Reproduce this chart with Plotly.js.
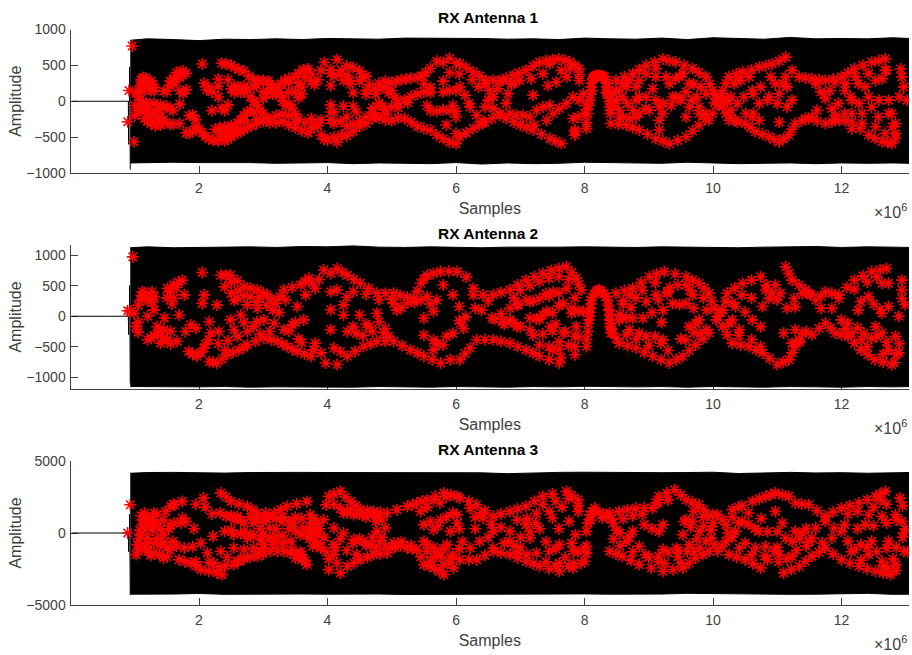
<!DOCTYPE html>
<html><head><meta charset="utf-8">
<script src="https://cdn.plot.ly/plotly-3.0.1.min.js"></script>
<style>html,body{margin:0;padding:0;background:#fff}#c{width:912px;height:655px}</style>
</head><body><div id="c"></div>
<script>
const MEGA = 1e6;
const tickMillions = [2,4,6,8,10,12];
const tickLabels = ['2','4','6','8','10','12'];
const panelTitles = ['RX Antenna 1','RX Antenna 2','RX Antenna 3'];

// silent lead-in and transient before the burst starts (x in millions of samples)
const leadX = [0.02,0.3,0.6,0.88,0.9,0.905,0.905,0.92,0.92,0.93];
const lead1 = [0,0,0,0,0,-600,0,0,480,-950];
const lead2 = [0,0,0,0,0,-300,0,0,500,-1100];
const lead3 = [0,0,0,0,0,-1300,0,0,1300,-4300];

// signal envelope
const envX = [0.93,1.2,1.6,2,2.4,2.8,3.2,3.6,4,4.4,4.8,5.2,5.6,6,6.4,6.8,7.2,7.6,8,8.4,8.8,9.2,9.6,10,10.4,10.8,11.2,11.6,12,12.4,12.8,13.05];
const rx1Top = [850,870,860,845,865,860,870,860,875,870,865,880,880,870,875,865,870,860,880,870,865,880,860,885,875,865,890,870,875,870,885,875];
const rx1Bot = [-860,-855,-850,-855,-860,-855,-865,-860,-855,-870,-860,-865,-870,-855,-875,-860,-870,-865,-850,-865,-860,-865,-850,-860,-870,-865,-860,-870,-860,-865,-860,-865];
const rx2Top = [1120,1135,1120,1125,1130,1135,1125,1140,1135,1150,1130,1125,1135,1130,1120,1130,1125,1130,1135,1130,1125,1135,1130,1125,1120,1130,1135,1140,1125,1135,1130,1125];
const rx2Bot = [-1150,-1155,-1150,-1155,-1150,-1160,-1155,-1150,-1155,-1160,-1150,-1155,-1160,-1150,-1155,-1160,-1150,-1155,-1145,-1150,-1155,-1150,-1160,-1150,-1155,-1160,-1150,-1155,-1160,-1150,-1155,-1150];
const rx3Top = [4150,4200,4210,4180,4160,4200,4180,4210,4200,4190,4220,4170,4210,4200,4180,4120,4190,4210,4220,4200,4170,4190,4200,4220,4130,4180,4210,4170,4190,4150,4180,4200];
const rx3Bot = [-4250,-4270,-4240,-4200,-4260,-4250,-4270,-4240,-4250,-4260,-4240,-4270,-4250,-4260,-4240,-4270,-4250,-4240,-4230,-4250,-4260,-4240,-4190,-4250,-4260,-4240,-4260,-4250,-4240,-4190,-4260,-4250];

// demodulated symbols as [millions of samples, amplitude]
const rx1Start = [[0.96,770],[0.99,-565],[0.91,150],[0.89,-285],[2.05,520]];
const rx1UpperA = [[2.35,530],[2.42,520],[2.5,500],[2.55,470],[2.62,440],[2.7,420],[2.78,350],[2.85,300],[2.92,290],[3,290],[3.08,280],[3.15,210],[3.2,160],[3.27,240],[3.33,290],[3.4,320],[3.5,340],[3.55,390],[3.62,440],[3.7,450],[3.75,380],[3.8,230],[3.85,300],[3.9,430],[3.95,540],[4.05,440],[4.15,580],[4.22,430],[4.3,490],[4.4,470],[4.5,420],[4.6,350],[4.65,230],[4.72,170],[4.8,250],[4.9,280],[5,260],[5.07,280],[5.15,300],[5.22,310],[5.3,320],[5.4,330],[5.47,350],[5.53,400],[5.6,460],[5.7,560],[5.8,540],[5.9,600],[6,530]];
const rx1LowerA = [[1.8,-440],[1.85,-450],[1.9,-420],[1.95,-350],[2,-380],[2.05,-440],[2.1,-490],[2.15,-520],[2.22,-545],[2.3,-550],[2.4,-550],[2.45,-530],[2.5,-490],[2.55,-470],[2.6,-440],[2.65,-420],[2.7,-390],[2.75,-370],[2.82,-340],[2.9,-310],[3,-280],[3.1,-300],[3.2,-300],[3.3,-280],[3.4,-330],[3.5,-370],[3.6,-410],[3.7,-440],[3.75,-380],[3.8,-320],[3.85,-340],[3.9,-470],[3.95,-530],[4,-540],[4.1,-500],[4.15,-570],[4.22,-470],[4.3,-480],[4.4,-420],[4.5,-350],[4.6,-310],[4.7,-240],[4.8,-230],[4.9,-260],[5,-270],[5.1,-230],[5.2,-240],[5.3,-290],[5.4,-350],[5.5,-380],[5.6,-400],[5.7,-470],[5.8,-520],[5.9,-570],[6,-590]];
const rx1InnerA = [[1.02,120],[1.05,60],[1.08,10],[1,-60],[1.05,-130],[1,-200],[1.08,-110],[1.15,-120],[1.2,-160],[1.15,-240],[1.2,-280],[1.3,-270],[1.35,-310],[1.4,-330],[1.45,-300],[1.4,-220],[1.3,-180],[1.25,-130],[1.2,-60],[1.3,-30],[1.4,-50],[1.5,-70],[1.55,-100],[1.6,-130],[1.7,-40],[1.6,-320],[1.7,-310],[1.55,-320],[1.1,300],[1.13,330],[1.17,320],[1.12,260],[1.15,230],[1.1,180],[1.15,150],[1.07,130],[1.25,280],[1.28,230],[1.3,190],[1.25,150],[1.3,150],[1.45,140],[1.5,140],[1.55,280],[1.6,320],[1.6,270],[1.65,340],[1.7,410],[1.75,420],[1.8,390],[1.65,400],[1.7,330],[1.7,150],[1.8,160],[1.75,110],[2.08,250],[2.15,190],[2.2,130],[2.3,210],[2.3,60],[2.2,-130],[2.35,-100],[2.45,-50],[2.3,310],[2.25,-390],[2.32,-370],[2.4,-360],[2.5,-340],[2.6,-300],[2.7,-270],[2.75,-150],[2.8,-130],[2.35,-470],[2.45,-460],[2.55,-410],[2.6,200],[2.5,170],[2.55,120],[2.65,130],[2.75,170],[2.8,60],[2.85,0],[2.9,-50],[3,40],[3,130],[3.1,170],[3.2,100],[3.3,0],[3.35,-60],[3.45,-100],[3.5,-180],[3.55,-250],[3.3,-180],[3.2,-200],[3,-170],[2.95,-130],[3.6,100],[3.5,140],[3.55,250],[3.6,200],[3.4,260],[3.75,-240],[3.9,-260],[4.05,-260],[4.1,-150],[4.05,-50],[4.25,-70],[4.4,-70],[4.45,-150],[4.3,-220],[4.05,220],[4.25,290],[4.35,240],[4.4,120],[4.6,150],[4.75,100],[4.8,-30],[4.7,-90],[4.85,-70],[4.9,-180],[5,-80],[5.1,-20],[5.2,20],[5.3,70],[5.4,100],[5.5,130],[5.6,120],[5.6,190],[5.5,240],[5,150],[4.9,190],[5.55,-60],[5.6,-130],[5.7,-140],[5.8,-120],[5.9,-130],[5.95,-60],[6,-140],[6,-220],[5.85,-330],[6,-450],[5.8,130],[5.9,150],[6,150],[5.8,280],[5.9,400],[6.05,380]];
const rx1MoreA = [[1.12,300],[1.18,280],[1.2,220],[1.08,220],[1.25,240],[1.22,-240],[1.25,-310],[1.32,-340],[1.45,-260],[1.38,-120],[1.45,-90],[1.12,-30],[1.18,-20],[1.6,240],[1.55,220],[1.75,370],[1.85,-200],[1.9,-190],[1.95,-260],[2.12,160],[2.4,-130],[2.3,-410],[2.45,-420],[2.55,-360],[2.65,-260],[2.7,-200],[2.85,-150],[2.6,150],[2.7,130],[2.55,210],[2.7,210],[2.45,300],[2.85,200],[2.9,230],[3.1,240],[3.15,100],[3.25,130],[3.3,60],[3.05,100],[3.4,-40],[3.4,-200],[3.05,-230],[3.1,-250],[2.9,-250],[3.5,-290],[3.65,-300],[3.4,130],[3.55,50],[3.65,340],[3.75,280],[4.1,350],[4.2,380],[4.3,360],[4.35,290],[4.05,390],[4.5,280],[4.55,340],[4.6,100],[4.8,180],[4.95,120],[5.05,50],[4.7,-160],[4.75,-210],[4.9,-120],[4.6,-220],[4.5,-280],[4.4,-320],[4.3,-350],[4.2,-280],[4.05,-150],[4.1,-310],[5.1,-90],[5.25,-20]];
const rx1UpperB = [[6.06,520],[6.16,470],[6.27,410],[6.37,350],[6.47,290],[6.58,290],[6.68,290],[6.78,320],[6.89,360],[6.98,395],[7.09,430],[7.2,490],[7.3,545],[7.4,565],[7.5,580],[7.6,590],[7.7,570],[7.77,545],[7.85,500],[7.92,450],[7.92,370],[7.92,290],[7.98,100],[8.03,-60]];
const rx1LowerB = [[6.06,-495],[6.16,-440],[6.27,-380],[6.36,-335],[6.45,-290],[6.56,-240],[6.68,-195],[6.78,-240],[6.9,-290],[7,-330],[7.1,-365],[7.2,-400],[7.33,-460],[7.46,-520],[7.55,-555],[7.64,-590],[7.85,-470],[7.85,-400],[8.03,-380],[8.03,-300],[8.05,-170]];
const rx1InB = [[6.06,200],[6.14,85],[6.22,-80],[6.32,-195],[6.42,-290],[6.45,245],[6.52,150],[6.58,60],[6.65,175],[6.73,290],[6.5,15],[6.45,-80],[6.58,-100],[6.68,-170],[6.78,-30],[6.81,105],[6.86,245],[6.84,-170],[6.94,-195],[7.04,-195],[7.15,-220],[7.25,-125],[7.35,-80],[7.46,-55],[7.41,-265],[7.51,-170],[7.61,-100],[7.72,-30],[7.82,-240],[7.85,-425],[7.9,-220],[7.2,85],[7.22,-335],[7.35,385],[7.43,220],[7.56,270],[7.72,340],[7.77,455],[7.46,520],[7.64,430],[7.17,315],[6.99,290],[6.9,250],[7.82,60],[7.92,15],[8,-170],[6.25,300],[6.35,200],[6.2,-30]];
const rx1Hump = [[8.08,15],[8.1,200],[8.13,315],[8.16,345],[8.2,360],[8.25,355],[8.31,340],[8.34,260],[8.36,150],[8.38,40],[8.39,-80],[8.4,-170],[8.07,-60],[8.09,100],[8.11,250],[8.14,330],[8.18,355],[8.22,360],[8.28,350],[8.33,300],[8.35,200],[8.37,100],[8.39,0],[8.41,-120],[8.12,150],[8.34,120]];
const rx1HexTop = [[8.49,290],[8.62,340],[8.75,385],[8.85,440],[8.96,500],[9.09,545],[9.22,590],[9.32,565],[9.42,545],[9.55,500],[9.68,455],[9.78,400],[9.89,340],[9.95,240],[9.99,150],[10.04,90],[10.07,40],[10.12,60],[10.02,-20],[10.09,-40]];
const rx1HexBot = [[8.41,-310],[8.53,-320],[8.65,-335],[8.75,-365],[8.85,-400],[8.98,-460],[9.11,-520],[9.22,-555],[9.32,-590],[9.45,-545],[9.58,-495],[9.68,-415],[9.78,-335],[9.88,-250],[9.99,-170],[10.07,-40]];
const rx1HexIn = [[8.54,-125],[8.75,-125],[8.59,60],[8.85,60],[9.06,175],[9.22,-30],[9.32,245],[9.42,60],[9.58,130],[9.63,-80],[9.78,-80],[9.16,-265],[9.22,-170],[9.47,340],[9.11,340],[8.8,200],[8.65,200],[9.93,-265],[8.5,130],[8.47,-30],[8.6,-220],[8.8,-220],[8.95,-100],[9.35,-60],[9.5,20],[9.75,60],[9.85,-190],[9.7,240],[8.49,153],[8.59,245],[8.7,290],[8.85,290],[8.96,385],[9.11,455],[9.27,340],[8.49,15],[8.67,-30],[8.8,15],[8.96,60],[9.11,15],[8.54,-220],[8.7,-240],[8.85,-170],[9.01,-125],[9.16,-80],[9.42,315],[9.53,385],[9.63,245],[9.81,200],[9.89,105],[9.68,15],[9.78,-170],[9.89,-170],[9.58,-220],[9.16,-400],[9.37,60],[9.47,35]];
const rx1Top3 = [[10.15,150],[10.2,250],[10.25,340],[10.36,380],[10.46,410],[10.6,440],[10.72,475],[10.82,495],[10.92,520],[11.03,560],[11.13,615],[11.23,430],[11.34,340],[11.44,325],[11.54,315],[11.65,300],[11.75,290],[11.87,310],[12,340],[12.1,395],[12.2,455],[12.33,500],[12.47,545],[12.58,565],[12.68,590],[12.7,430]];
const rx1Bot3 = [[10.15,-80],[10.2,-170],[10.25,-265],[10.38,-290],[10.5,-310],[10.58,-365],[10.66,-425],[10.77,-460],[10.87,-495],[10.95,-530],[11.03,-565],[11.1,-520],[11.18,-470],[11.23,-390],[11.28,-310],[11.38,-275],[11.49,-240],[11.62,-275],[11.75,-310],[11.85,-285],[11.96,-265],[12.06,-275],[12.16,-290],[12.29,-380],[12.42,-470],[12.52,-515],[12.63,-565],[12.72,-575],[12.78,-590],[12.84,-450]];
const rx1In3 = [[11.6,245],[11.68,130],[11.75,40],[11.62,-125],[11.54,-220],[11.85,-100],[11.9,-195],[11.82,150],[11.9,265],[10.23,15],[10.28,-125],[10.38,-30],[10.48,60],[10.63,105],[10.85,15],[11,-30],[11.15,-80],[10.63,-170],[11.08,245],[11.13,340],[11.15,200],[11.03,-290],[10.43,290],[10.74,200],[10.9,340],[12.05,150],[12.16,15],[12.26,245],[12.42,385],[12.63,315],[12.32,-170],[12.47,-80],[12.73,15],[12.57,-220],[12.16,-380],[12.78,-170],[12.84,-310],[12.92,450],[12.94,340],[12.97,200],[13.02,15],[12.9,60],[11.95,-30],[12.05,-170],[10.28,60],[10.33,245],[10.41,340],[10.56,340],[10.2,15],[10.25,-195],[10.35,-265],[10.51,-170],[10.61,-220],[10.72,-265],[10.72,-30],[10.97,245],[11.03,105],[10.87,60],[10.61,150],[11.23,15],[12.06,245],[12.22,340],[12.37,200],[12.53,290],[12.68,430],[12.14,60],[12.27,-30],[12.42,60],[12.58,15],[12.16,-170],[12.32,-310],[12.53,-355],[12.68,-450],[12.79,-355],[12.84,-520],[12.73,-170],[11.9,-265],[11.44,-240]];

const rx2Start = [[0.97,970],[0.89,90],[2.05,715],[0.93,80]];
const rx2UpperA = [[2.34,670],[2.42,670],[2.49,670],[2.6,580],[2.7,485],[2.8,455],[2.91,430],[3,380],[3.06,350],[3.13,280],[3.19,210],[3.26,320],[3.32,430],[3.45,470],[3.58,510],[3.65,570],[3.71,620],[3.76,540],[3.81,455],[3.87,600],[3.94,755],[4.05,700],[4.15,780],[4.23,720],[4.31,670],[4.41,600],[4.51,540],[4.64,455],[4.77,375],[4.9,375],[5.03,375],[5.13,340],[5.24,310],[5.34,295],[5.4,410],[5.45,540],[5.5,610],[5.55,670],[5.65,700],[5.76,730],[5.89,735],[6.02,730],[6.16,640],[6.27,455]];
const rx2LowerA = [[1.84,-575],[1.9,-620],[1.97,-655],[2.03,-590],[2.08,-520],[2.16,-740],[2.22,-750],[2.28,-765],[2.36,-700],[2.44,-630],[2.53,-590],[2.62,-550],[2.7,-510],[2.75,-465],[2.88,-410],[3.01,-360],[3.12,-385],[3.22,-410],[3.3,-450],[3.37,-495],[3.45,-535],[3.53,-575],[3.64,-615],[3.74,-655],[3.78,-550],[3.81,-440],[3.9,-600],[3.97,-765],[4.15,-790],[4.1,-520],[4.2,-580],[4.31,-655],[4.43,-575],[4.56,-495],[4.67,-450],[4.77,-410],[4.9,-410],[5.03,-410],[5.16,-480],[5.29,-550],[5.4,-600],[5.5,-655],[5.63,-710],[5.76,-765],[5.91,-710],[6.06,-710],[6.14,-610],[6.22,-520],[6.32,-385]];
const rx2InA = [[1.12,400],[1.14,340],[1.09,265],[1.05,180],[0.99,50],[1.02,-170],[1.05,-260],[1.2,0],[1.3,100],[1.27,400],[1.25,300],[1.2,-385],[1.35,-170],[1.4,-440],[1.3,-320],[1.45,-350],[1.56,-250],[1.66,-410],[1.56,-450],[1.51,455],[1.6,510],[1.68,560],[1.74,590],[1.61,295],[1.77,350],[1.5,300],[1.69,20],[1.46,-30],[2.08,350],[2.05,210],[2.16,-90],[2.28,185],[1.87,-140],[1.79,-250],[1.95,-195],[2.18,-275],[2.31,-250],[2.49,-60],[2.54,-220],[2.65,20],[2.75,185],[2.91,130],[2.85,-170],[3.01,-60],[3.17,-115],[2.5,375],[2.6,290],[2.4,480],[3.32,-220],[3.45,-140],[3.63,-60],[3.35,265],[3.53,160],[3.66,350],[4.05,400],[4.05,105],[4.25,185],[4.25,20],[4.05,-220],[4.31,-250],[4.5,20],[4.4,-170],[4.65,-170],[4.77,50],[4.87,-275],[5.08,100],[5.03,210],[5.5,-30],[5.55,320],[5.7,265],[5.65,80],[5.8,510],[5.95,350],[6.05,160],[5.5,-310],[5.65,-390],[5.85,-330],[5.65,-550],[5.95,-280],[6.07,-115],[6.15,-10],[6.12,-200],[6.05,-70],[5.7,-450],[5.8,-470],[5.6,200],[6.27,350]];
const rx2More = [[1.1,340],[1.15,380],[1.2,250],[1.05,-100],[1.3,320],[1.28,230],[1.25,-350],[1.35,-280],[1.45,-220],[1.5,-390],[1.4,-250],[1.55,400],[1.65,470],[1.58,200],[2.5,560],[2.6,420],[2.55,260],[2.7,340],[2.8,320],[2.95,310],[2.9,230],[3.05,180],[3.15,100],[3.25,60],[2.7,-100],[2.75,-250],[2.9,-90],[3.1,-250],[2.95,-290],[2.6,-330],[2.45,-400],[2.3,-450],[2.4,-560],[2.1,-460],[2.15,-380],[3.4,-240],[3.5,-100],[3.55,-370],[3.6,-430],[4.45,-280],[4.55,-320],[4.6,-130],[4.7,-250],[4.8,-90],[4.9,-200],[4.95,-330],[4.6,360],[4.8,270],[5,280],[4.4,400],[4.3,310],[4.15,430],[5.15,140],[5.25,220],[5.35,230],[5.45,260],[6.9,300],[7,430],[7.15,500],[7.3,570],[7.45,620],[7.6,650],[7.75,600],[6.95,180],[7.15,240],[7.45,330],[7.6,380],[7.85,300],[6.5,250],[6.6,-50],[6.75,-130],[6.9,-110],[6.95,-170],[7.25,-40],[7.35,20],[7.5,60],[7.6,170],[7.8,130],[7.9,90],[7.2,-310],[7.35,-290],[7.5,-240],[7.7,-250],[7.85,-330],[7.9,-340],[7.3,-470],[7.45,-500],[7.6,-540],[7.75,-480],[8.6,250],[8.7,350],[8.9,420],[9.1,550],[8.55,30],[8.7,-220],[8.8,-370],[9,-480],[9.1,-330],[9.3,-560],[9.5,-370],[9.7,-270],[9.8,-280],[9.9,100],[9.85,300],[9.7,130],[9.15,270],[9.2,-100],[10.3,220],[10.45,350],[10.5,70],[10.25,-120],[10.4,-310],[10.6,-380],[10.6,300],[11.28,150],[11.35,-420],[11.45,-250],[11.5,370],[12.05,-200],[12.3,240],[12.5,200],[12.6,110],[12.35,-280],[12.55,-330],[12.7,-420],[12.85,-620],[12.65,-620],[12.4,-500],[12.9,-450],[12.2,440],[12.4,560],[12.55,640],[12.25,-190]];
const rx2UpperB = [[6.42,350],[6.58,350],[6.7,390],[6.84,430],[6.96,510],[7.09,590],[7.22,645],[7.35,700],[7.48,750],[7.6,780],[7.72,810],[7.8,715],[7.87,620],[7.91,520],[7.95,430]];
const rx2LowerB = [[6.45,-385],[6.58,-385],[6.7,-410],[6.84,-440],[6.96,-495],[7.09,-550],[7.2,-600],[7.3,-655],[7.45,-710],[7.61,-765],[7.63,-680],[7.85,-630],[7.85,-500],[8.03,-495],[8.03,-380]];
const rx2InB = [[6.84,130],[7.09,265],[7.3,290],[7.51,400],[7.72,455],[6.4,100],[6.56,-30],[6.84,-60],[7,-170],[7.15,-225],[7.15,-30],[7.41,80],[7.67,210],[7.98,80],[7.47,-170],[7.67,-275],[7.87,-170],[6.7,40],[6.97,195],[7.2,250],[7.4,370],[6.3,130],[6.72,-90],[7.55,-130],[7.3,-50],[7.8,50],[7.6,-420],[7.5,-550]];
const rx2Hump = [[8.08,0],[8.09,130],[8.1,265],[8.15,360],[8.23,430],[8.3,370],[8.36,265],[8.38,100],[8.39,-60],[8.4,-170],[8.41,-275],[8.06,-120],[8.07,-60],[8.09,60],[8.1,200],[8.12,310],[8.18,400],[8.2,420],[8.26,410],[8.33,320],[8.37,180],[8.39,20],[8.4,-120],[8.05,-250],[8.42,-200]];
const rx2HexTop = [[8.49,375],[8.62,420],[8.75,455],[8.88,550],[9.01,645],[9.12,690],[9.24,730],[9.41,690],[9.58,645],[9.68,590],[9.78,540],[9.86,460],[9.94,375],[9.98,250],[10.02,130],[10.07,0],[10.12,60]];
const rx2HexBot = [[8.44,-275],[8.49,-360],[8.54,-440],[8.67,-480],[8.8,-520],[8.93,-590],[9.06,-655],[9.19,-710],[9.32,-765],[9.43,-710],[9.53,-655],[9.63,-560],[9.73,-465],[9.84,-370],[9.94,-275],[10.05,-60]];
const rx2HexIn = [[9.29,375],[9.33,470],[9.58,510],[9.68,350],[9.58,210],[9.37,210],[9.29,400],[9.45,510],[9.64,430],[9.48,190],[8.72,145],[8.96,240],[9.11,350],[9.22,100],[8.54,-60],[8.75,-30],[8.91,-30],[8.65,-300],[8.96,-330],[9.19,-440],[9.22,-390],[9.63,-170],[9.78,-60],[9.89,-220],[9.58,-385],[9.73,-120],[8.6,200],[8.8,300],[9.05,60],[8.65,-30],[8.85,-280]];
const rx2Top3 = [[10.15,100],[10.19,240],[10.22,375],[10.34,460],[10.46,540],[10.6,590],[10.74,645],[10.83,510],[10.92,375],[11.13,810],[11.18,700],[11.23,590],[11.34,510],[11.44,430],[11.52,350],[11.6,265],[11.68,330],[11.75,400],[11.85,375],[11.96,350],[12.08,470],[12.2,590],[12.33,660],[12.47,730],[12.6,760],[12.7,780]];
const rx2Bot3 = [[10.15,-170],[10.22,-300],[10.3,-440],[10.43,-470],[10.56,-495],[10.67,-550],[10.77,-600],[10.88,-690],[11,-790],[11.09,-750],[11.18,-710],[11.23,-600],[11.28,-495],[11.34,-385],[11.39,-275],[11.54,-300],[11.65,-200],[11.75,-115],[11.83,-190],[11.9,-275],[12,-300],[12.1,-330],[12.2,-440],[12.3,-550],[12.41,-630],[12.52,-710],[12.65,-750],[12.78,-790]];
const rx2In3 = [[10.82,430],[10.87,290],[11,265],[11.05,375],[10.97,510],[11.68,130],[11.85,130],[11.96,290],[11.39,375],[11.26,290],[10.3,-60],[10.41,-220],[10.61,-60],[10.74,-170],[10.74,-495],[10.35,160],[10.77,160],[11.15,130],[11.1,-275],[11.28,-220],[11.23,-440],[12,-60],[12.1,-115],[12.26,100],[12.42,320],[12.63,540],[12.73,540],[12.53,-170],[12.63,50],[12.73,160],[12.89,0],[12.84,-330],[12.63,-275],[12.94,590],[12.94,430],[12.94,295],[12.99,190],[12.16,-275],[12.31,-385],[12.47,-360],[12.73,-550],[12.89,-600],[12.82,-760]];

const rx3Start = [[0.93,1960],[0.89,0],[1.92,300],[2.07,2425],[2.22,-230]];
const rx3Left = [[1.15,1390],[1.12,900],[1.12,580],[1.08,200],[1.04,-810],[1.06,-400],[1.02,-1500],[1.06,-1150],[1.2,-1270],[1.3,1390],[1.28,900],[1.22,500],[1.35,690],[1.28,200],[1.45,-115],[1.53,300],[1.61,690],[1.72,700],[1.74,2195],[1.62,1950],[1.56,1850],[1.48,1500],[1.74,1040],[1.8,800],[1.59,-580],[1.4,-810],[1.45,-1730],[1.38,-1500],[1.2,-350],[1.3,-700],[1.3,-1350],[1.5,-1000],[1.65,-900],[1.95,2000],[2.1,1800],[2.2,1320],[2.33,1400]];
const rx3LowerA = [[1.69,-1850],[1.78,-2000],[1.87,-2080],[1.95,-2300],[2.03,-2540],[2.15,-2650],[2.28,-2770],[2.36,-2890],[2.23,-2080],[2.13,-1385],[2.34,-1270],[2.44,-1700],[2.54,-2195],[2.62,-1950],[2.7,-1730],[2.8,-1680],[2.91,-1620],[3,-1450],[3.11,-1270],[3.22,-1270],[3.32,-1270],[3.42,-1380],[3.53,-1500],[3.6,-1850],[3.68,-2195],[3.58,-1300],[3.45,-1200],[1.77,-1040],[1.9,-950],[2.03,-690]];
const rx3UpperA = [[2.34,2770],[2.42,2500],[2.5,2195],[2.62,2020],[2.75,1850],[2.83,1620],[2.91,1390],[3.04,1390],[3.17,1390],[3.27,1620],[3.37,1850],[3.52,2020],[3.68,2195],[3.73,1270],[2.6,1150],[2.5,1200],[2.42,1170],[2.7,700],[2.85,700],[3.05,1040],[3.3,800],[3.47,700],[3.62,350],[2.4,115],[2.54,-115],[2.75,-350],[2.96,-460],[3.17,-580],[3.43,-580],[3.58,-115],[2.54,-1040],[2.7,-1155],[2.85,-1040],[3.01,-810],[2.65,-50],[2.8,-100],[3.1,-300],[3.3,-200]];
const rx3Mid = [[3.84,700],[3.79,-115],[3.89,-1040],[3.81,-580],[3.94,920],[3.77,-920],[3.88,300],[3.72,200],[3.95,-300],[3.98,-1300],[4.02,-1800]];
const rx3UpperB = [[4.02,2540],[3.98,1950],[4.1,2700],[4.2,2890],[4.28,2500],[4.36,2195],[4.44,1900],[4.51,1620],[4.62,1550],[4.72,1500],[4.82,1440],[4.93,1390],[5.08,1620],[5.24,1850],[5.32,1960],[5.39,2080],[5.47,2200],[5.55,2310],[5.68,2550],[5.81,2770],[5.92,2650],[6.02,2540],[4.3,1400],[4.55,1250]];
const rx3LowerB = [[4.02,-2540],[4.2,-2770],[4.31,-2310],[4.41,-2080],[4.51,-1850],[4.62,-1680],[4.72,-1500],[4.82,-1440],[4.93,-1385],[5,-1000],[5.03,-690],[5.14,-860],[5.24,-1040],[5.32,-1100],[5.39,-1155],[5.45,-1650],[5.5,-2195],[5.58,-2300],[5.66,-2425],[5.74,-2650],[5.81,-2890],[5.96,-2425]];
const rx3InB = [[4.1,350],[4.1,-810],[4.25,0],[4.41,-460],[4.56,-580],[4.77,115],[4.9,350],[4.77,1040],[4.67,-810],[4.82,-580],[4.25,1390],[4.41,1270],[4.1,-1500],[4.15,-2080],[5.45,1500],[5.5,580],[5.76,920],[5.65,230],[6.02,1270],[5.91,115],[6.02,690],[5.55,-1270],[5.76,-1620],[5.91,-1730],[5.86,-810],[5.5,-580],[5.3,-850],[5.65,-1000],[5.9,-2100]];
const rx3UpperC = [[6.06,2425],[6.2,2200],[6.32,1960],[6.45,1550],[6.58,1155],[6.7,1330],[6.84,1500],[6.96,1680],[7.09,1850],[7.22,2200],[7.35,2540],[7.5,2700],[7.72,2890],[7.8,2600],[7.9,2310],[7.9,1900],[7.9,1500]];
const rx3LowerC = [[6.06,-1850],[6.2,-1850],[6.32,-1850],[6.45,-1550],[6.58,-1270],[6.7,-1380],[6.84,-1500],[6.96,-1730],[7.09,-1960],[7.2,-2130],[7.3,-2310],[7.45,-2480],[7.61,-2660],[7.82,-2425],[7.83,-2100],[8,-1960],[8.03,-1400],[8.03,-900]];
const rx3InC = [[6.22,1730],[6.42,1040],[6.58,115],[6.37,-580],[6.22,-1040],[6.58,-1040],[6.84,115],[7.09,580],[7.24,690],[7.5,1040],[7.76,810],[7.86,-115],[6.84,-580],[7.15,-350],[7.25,-1385],[7.45,-1270],[7.61,-810],[7.82,-1270],[7.61,-2080],[8,-1040],[7.35,2000],[6.7,400],[6.3,300],[7,-1000],[7.3,300],[7.6,300]];
const rx3Hump = [[8.03,115],[8.05,700],[8.08,1270],[8.12,1500],[8.16,1730],[8.22,1400],[8.28,1040],[8.34,1200],[8.39,1385],[8.42,1000],[8.44,690],[8.1,900],[8.3,1300]];
const rx3HexTop = [[8.54,1500],[8.67,1620],[8.8,1730],[8.93,1730],[9.06,1730],[9.11,2100],[9.16,2540],[9.28,2770],[9.4,3000],[9.5,2650],[9.58,2310],[9.68,2130],[9.78,1960],[9.85,1620],[9.91,1270],[10,1270],[10.07,1270],[10.14,950],[10.2,580],[10.23,0],[10.2,-580],[10.14,-950],[10.07,-1270],[10.02,-800],[9.97,-350],[9.97,200],[10,690]];
const rx3HexBot = [[8.39,-1270],[8.49,-1450],[8.59,-1620],[8.72,-1900],[8.85,-2195],[9.04,-2430],[9.22,-2660],[9.38,-2550],[9.53,-2425],[9.63,-2080],[9.73,-1730],[9.84,-1500],[9.94,-1270]];
const rx3HexIn = [[8.93,580],[9.22,580],[9.16,115],[9.05,300],[8.75,115],[8.65,-580],[8.85,-920],[9.22,-1150],[9.43,-1040],[9.63,-810],[9.53,-115],[9.79,115],[9.68,810],[9.58,920],[9.89,-580],[9.79,-1040],[8.5,200],[8.45,-400],[9,-1700],[9.15,-2000],[9.45,-1650]];
const rx3Top3 = [[10.3,1620],[10.45,1900],[10.61,2195],[10.72,2370],[10.82,2540],[10.9,2650],[10.97,2770],[11.08,2650],[11.18,2540],[11.28,2080],[11.38,2020],[11.49,1960],[11.62,1550],[11.75,1155],[11.87,1450],[12,1730],[12.13,1900],[12.27,2080],[12.4,2300],[12.53,2540],[12.6,2700],[12.68,2890]];
const rx3Bot3 = [[10.25,-1500],[10.37,-1680],[10.5,-1850],[10.62,-2130],[10.74,-2425],[10.85,-1850],[10.95,-1270],[11.02,-2000],[11.1,-2770],[11.22,-2540],[11.34,-2310],[11.44,-1960],[11.54,-1620],[11.65,-1330],[11.75,-1040],[11.87,-1450],[12,-1850],[12.13,-2080],[12.27,-2310],[12.4,-2480],[12.53,-2660],[12.65,-2770],[12.76,-2890],[12.84,-2195],[12.72,-2500]];
const rx3In3 = [[11.6,350],[11.54,-350],[11.7,-690],[11.85,-350],[11.88,350],[11.75,810],[10.97,1500],[11.08,690],[11,115],[11.13,-350],[11.28,115],[11.23,-580],[11.39,0],[10.55,1390],[10.45,810],[10.71,115],[10.35,115],[10.41,-1040],[10.66,-1040],[10.82,-920],[11.03,-1500],[11.23,-1620],[12,115],[12.05,580],[12.42,1270],[12.37,580],[12.63,1155],[12.84,1270],[12.94,810],[12.91,2425],[12.97,-1270],[12.97,0],[12.1,-580],[12.2,-1155],[12.47,-580],[12.73,-580],[12.42,-1500],[12.63,-1960],[12.95,1900],[12.3,-800],[12.85,-1000]];
const rx3MoreA = [[1.1,1200],[1.2,1100],[1.35,1300],[1.25,600],[1.4,250],[1.15,200],[1.1,-150],[1.2,-700],[1.35,-400],[1.45,-650],[1.55,-1200],[1.25,-1550],[1.5,-1650],[1.15,-1000],[1.45,900],[1.55,500],[1.6,2000],[2.55,900],[2.65,900],[2.9,1000],[3,800],[3.1,1100],[3.2,1000],[3.3,1100],[3.4,800],[3.5,1100],[3.6,1000],[2.8,1100],[2.95,300],[3.1,350],[3.2,300],[3.4,300],[3.5,150],[2.5,200],[2.7,100],[2.85,-200],[3,-100],[3.2,-250],[3.3,-700],[2.9,-1300],[2.7,-1800],[2.6,-1950],[3,-1050],[3.15,-800],[3.5,-1750],[3.6,-1500],[3.65,-1900],[2.4,-2300],[2.3,-2400],[2.15,-2050],[1.95,-2000],[3.75,700],[3.78,1000],[3.72,-400],[3.85,-700],[3.9,-1000],[3.68,-150],[3.85,-100],[3.78,350],[4.4,-700],[4.5,-400],[4.6,-850],[4.7,-300],[4.85,-300],[4.9,-900],[4.75,-1000],[4.45,-1500],[4.3,-1200],[4.2,-400],[4.12,-1000],[4.6,1100],[4.75,800],[4.85,900],[4.1,2000],[4.2,1700],[4.35,1650],[4.5,1300],[4.7,1300],[5.05,-1000],[5.15,-600],[5.55,1800],[5.65,2300],[5.75,2100],[5.85,2500],[5.6,800],[5.72,500],[5.85,1100],[5.95,1400],[6.05,300],[5.7,-1400],[5.65,-1700],[5.6,-2000],[5.8,-2200],[5.95,-1500],[6.05,-1100],[6.1,-600],[5.8,-1100],[5.55,-800]];
const rx3MoreB = [[6.4,1400],[6.55,600],[6.3,1100],[6.5,-300],[6.75,-700],[6.9,-900],[6.95,900],[7.1,1000],[7.25,1350],[7.45,1500],[7.65,1800],[7.75,2400],[7.55,2200],[7.15,100],[7,-300],[7.4,-600],[7.55,-1100],[7.7,-1700],[7.8,-700],[7.9,-1300],[7.95,-2100],[7.75,-2300],[7.4,-2000],[7.55,-2300],[6.95,-1400],[7.1,-1500],[8.6,1000],[8.75,1200],[8.9,1300],[8.55,0],[8.7,-300],[8.55,-900],[8.75,-1300],[8.95,-1500],[9.15,-1600],[9.3,-1350],[9.45,-1200],[9.6,-1300],[9.25,-2100],[9.5,-2100],[9.7,-1300],[9.75,-400],[9.85,500],[9.65,400],[9.55,800],[9.3,2300],[9.15,2100],[9.7,1500],[9.85,1100],[10.4,1800],[10.3,1100],[10.4,700],[10.55,600],[10.65,300],[10.75,1000],[10.85,100],[10.3,-300],[10.5,-700],[10.6,-1500],[10.8,-1600],[11,-1000],[11.15,-1800],[11.3,-1200],[11.45,-900],[11.35,-400],[11.5,-600],[11.45,300],[12.1,1300],[12.25,1500],[12.5,1800],[12.7,2000],[12.6,2300],[12.85,900],[12.7,700],[12.5,500],[12.25,300],[12.4,-1000],[12.55,-1300],[12.7,-1050],[12.8,-1800],[12.65,-2300],[12.85,-2600],[12.3,-1900],[12.15,-1300],[12.95,-300],[13,300],[13.03,-1300]];

const rx1Symbols = [].concat(rx1Start,rx1UpperA,rx1LowerA,rx1InnerA,rx1MoreA,rx1UpperB,rx1LowerB,rx1InB,rx1Hump,rx1HexTop,rx1HexBot,rx1HexIn,rx1Top3,rx1Bot3,rx1In3);
const rx2Symbols = [].concat(rx2Start,rx2UpperA,rx2LowerA,rx2InA,rx2More,rx2UpperB,rx2LowerB,rx2InB,rx2Hump,rx2HexTop,rx2HexBot,rx2HexIn,rx2Top3,rx2Bot3,rx2In3);
const rx3Symbols = [].concat(rx3Start,rx3Left,rx3LowerA,rx3UpperA,rx3Mid,rx3UpperB,rx3LowerB,rx3InB,rx3MoreA,rx3UpperC,rx3LowerC,rx3InC,rx3MoreB,rx3Hump,rx3HexTop,rx3HexBot,rx3HexIn,rx3Top3,rx3Bot3,rx3In3);

const panels = [
  {lead:lead1,top:rx1Top,bot:rx1Bot,sym:rx1Symbols,range:[-1000,1000],ticks:[-1000,-500,0,500,1000],dom:[29.5,173]},
  {lead:lead2,top:rx2Top,bot:rx2Bot,sym:rx2Symbols,range:[-1190,1165],ticks:[-1000,-500,0,500,1000],dom:[245,389]},
  {lead:lead3,top:rx3Top,bot:rx3Bot,sym:rx3Symbols,range:[-5000,5000],ticks:[-5000,0,5000],dom:[461,605]}
];
const W=912,H=655,INK='#404040';
const traces=[],layout={width:W,height:H,margin:{l:0,r:0,t:0,b:0},paper_bgcolor:'#fff',plot_bgcolor:'#fff',showlegend:false,annotations:[],font:{family:'Liberation Sans, Arial, sans-serif'}};
panels.forEach((p,i)=>{
  const n=i?String(i+1):'';
  const xa='x'+n, ya='y'+n;
  traces.push({x:leadX.map(v=>v*MEGA),y:p.lead,xaxis:xa,yaxis:ya,mode:'lines',line:{color:'#000',width:1},hoverinfo:'skip'});
  traces.push({x:envX.concat(envX.slice().reverse()).map(v=>v*MEGA),y:p.top.concat(p.bot.slice().reverse()),xaxis:xa,yaxis:ya,mode:'lines',fill:'toself',fillcolor:'#000',line:{color:'#000',width:1},hoverinfo:'skip'});
  traces.push({x:p.sym.map(s=>s[0]*MEGA),y:p.sym.map(s=>s[1]),xaxis:xa,yaxis:ya,mode:'markers',marker:{symbol:'asterisk-open',size:10,color:'#f00',line:{color:'#f00',width:1.6}},hoverinfo:'skip'});
  layout['xaxis'+n]={anchor:ya,domain:[70.5/W,909/W],range:[0,13.05*MEGA],tickmode:'array',tickvals:tickMillions.map(v=>v*MEGA),ticktext:tickLabels,ticks:'inside',ticklen:7,tickwidth:1,tickcolor:INK,showline:true,linecolor:INK,linewidth:1,showgrid:false,zeroline:false,layer:'below traces',ticklabelstandoff:2,tickfont:{size:14,color:INK},title:{text:'Samples',font:{size:16,color:INK},standoff:8}};
  layout['yaxis'+n]={anchor:xa,domain:[1-p.dom[1]/H,1-p.dom[0]/H],range:p.range,tickmode:'array',tickvals:p.ticks,ticks:'inside',ticklen:7,tickwidth:1,tickcolor:INK,showline:true,linecolor:INK,linewidth:1,showgrid:false,zeroline:false,layer:'below traces',ticklabelstandoff:1,tickfont:{size:14,color:INK},title:{text:'Amplitude',font:{size:16,color:INK},standoff:0}};
  layout.annotations.push({xref:'paper',yref:'paper',x:488/W,y:1-(p.dom[0]-12)/H,text:panelTitles[i],showarrow:false,font:{size:15.5,color:'#000',weight:'bold'},xanchor:'center',yanchor:'middle'});
  layout.annotations.push({xref:'paper',yref:'paper',x:909/W,y:1-(p.dom[1]+38)/H,text:'×10<sup>6</sup>',showarrow:false,font:{size:16,color:INK},xanchor:'right',yanchor:'middle'});
});
Plotly.newPlot('c',traces,layout,{displayModeBar:false,staticPlot:true});
</script></body></html>
